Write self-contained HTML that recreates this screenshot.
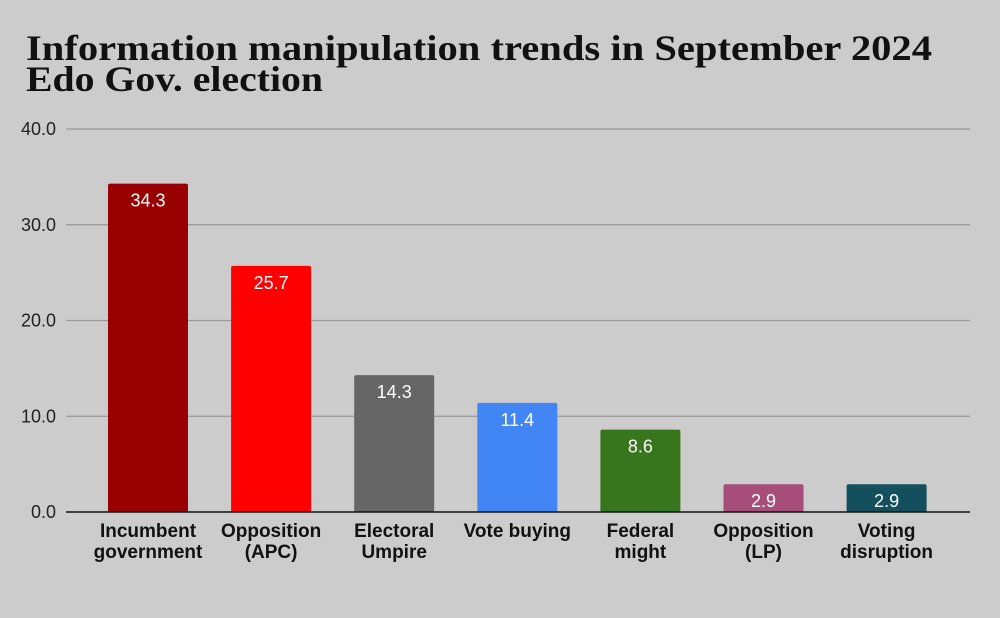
<!DOCTYPE html>
<html><head><meta charset="utf-8"><style>
body{margin:0;background:#cccccc;}
svg{display:block;font-family:"Liberation Sans",sans-serif;}
</style></head><body>
<svg width="1000" height="618" viewBox="0 0 1000 618">
<rect width="1000" height="618" fill="#cccccc"/>
<text x="26" y="60" font-family="'Liberation Serif',serif" font-weight="bold" font-size="36" textLength="906" lengthAdjust="spacingAndGlyphs" fill="#111">Information manipulation trends in September 2024</text>
<text x="26" y="91" font-family="'Liberation Serif',serif" font-weight="bold" font-size="36" textLength="297" lengthAdjust="spacingAndGlyphs" fill="#111">Edo Gov. election</text>
<g id="grid"></g><g id="bars"></g><g id="labels"></g>
</svg>
<script>
const categories=[["Incumbent","government"],["Opposition","(APC)"],["Electoral","Umpire"],["Vote buying"],["Federal","might"],["Opposition","(LP)"],["Voting","disruption"]];
const values=[34.3,25.7,14.3,11.4,8.6,2.9,2.9];
const colors=["#990000","#ff0000","#666666","#4285f4","#38761d","#a64d79","#134f5c"];
const ticks=[0,10,20,30,40];
const NS="http://www.w3.org/2000/svg";
const x0=66,x1=970,y0=512,yTop=129;
function y(v){return y0-(v/40)*(y0-yTop);}
function xc(i){return 148+i*123.1;}
function mk(t,a,p){const e=document.createElementNS(NS,t);for(const k in a)e.setAttribute(k,a[k]);p.appendChild(e);return e;}
const grid=document.getElementById('grid'),bars=document.getElementById('bars'),labels=document.getElementById('labels');
ticks.forEach(t=>{
 if(t>0){const l=mk('line',{x1:x0,x2:x1,y1:y(t),y2:y(t),stroke:'#999','stroke-width':1.3},grid);
 
 }
 const tx=mk('text',{x:56,y:y(t)+6,'text-anchor':'end','font-size':18,fill:'#222'},grid);
 tx.textContent=t.toFixed(1);
 
 
});
values.forEach((v,i)=>{
 const r=mk('rect',{x:xc(i)-40,y:y(v),width:80,height:y0-y(v),fill:colors[i],rx:2},bars);
 
 
 const t=mk('text',{x:xc(i),y:y(v)+23,'text-anchor':'middle','font-size':18,fill:'#fff'},labels);
 t.textContent=v.toFixed(1);
 
 
 categories[i].forEach((s,j)=>{
  const c=mk('text',{x:xc(i),y:537+j*21,'text-anchor':'middle','font-size':19,'font-weight':'bold',fill:'#111'},labels);
  c.textContent=s;
  
  
 });
});
const ax=mk('line',{x1:x0,x2:x1,y1:y0,y2:y0,stroke:'#111','stroke-width':1.5},labels);


</script>
</body></html>
